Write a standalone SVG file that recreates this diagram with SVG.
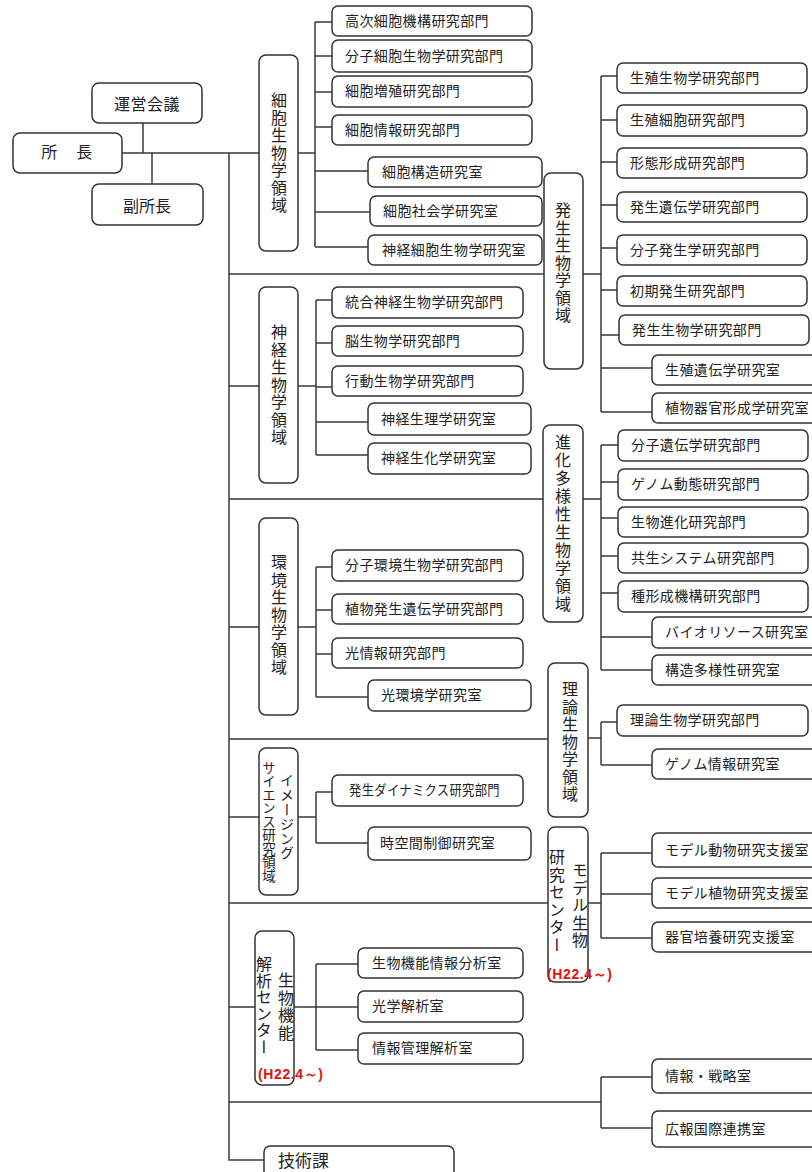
<svg xmlns="http://www.w3.org/2000/svg" width="812" height="1172" viewBox="0 0 812 1172">
  <style>
    .box { fill: #fff; stroke: #333; stroke-width: 1.5; }
    .ln { fill: none; stroke: #3a3a3a; stroke-width: 1.5; }
    text { font-family: "Noto Sans CJK JP", "Noto Sans CJK SC", sans-serif; fill: #222; }
    .t { font-size: 14px; letter-spacing: 0.4px; }
    .c { font-size: 16px; text-anchor: middle; }
    .v { font-size: 16px; writing-mode: vertical-rl; text-orientation: upright; letter-spacing: 1.5px; }
    .vs { font-size: 13.5px; writing-mode: vertical-rl; text-orientation: upright; }
    .red { font-family: "Liberation Sans", sans-serif; font-size: 14px; font-weight: bold; fill: #e01010; }
  </style>

  <rect width="812" height="1172" fill="#fff"/>

  <!-- connectors -->
  <g id="connectors" class="ln">
    <!-- director, council, vice director -->
    <path d="M122,153 H259 M143,123 V153 M152,153 V184"/>
    <!-- main trunk and its branches -->
    <path d="M229,153 V1160 H264"/>
    <path d="M229,274 H544 M229,386 H259 M229,499 H543 M229,627 H259 M229,739 H548 M229,817 H259 M229,903 H548 M229,1007 H255 M229,1102 H601"/>
    <!-- cell biology -->
    <path d="M298,153 H315 M315,22 V247 M315,22 H332 M315,56 H332 M315,92 H332 M315,127 H332 M315,171 H368 M315,212 H370 M315,247 H368"/>
    <!-- developmental biology -->
    <path d="M583,274 H601 M601,76 V412 M601,76 H617 M601,120 H617 M601,162 H617 M601,205 H617 M601,248 H617 M601,290 H617 M601,335 H619 M601,368 H652 M601,412 H652"/>
    <!-- neurobiology -->
    <path d="M298,386 H316 M316,300 V455 M316,300 H332 M316,343 H332 M316,387 H332 M316,422 H368 M316,455 H368"/>
    <!-- evolutionary biology and biodiversity -->
    <path d="M583,499 H601 M601,445 V670 M601,445 H618 M601,482 H618 M601,518 H618 M601,556 H618 M601,593 H618 M601,637 H652 M601,670 H652"/>
    <!-- environmental biology -->
    <path d="M298,627 H316 M316,567 V697 M316,567 H332 M316,610 H332 M316,654 H332 M316,697 H368"/>
    <!-- theoretical biology -->
    <path d="M588,738 H601 M601,722 V765 M601,722 H617 M601,765 H652"/>
    <!-- imaging science -->
    <path d="M298,817 H316 M316,792 V843 M316,792 H332 M316,843 H368"/>
    <!-- model organisms center -->
    <path d="M588,903 H601 M601,853 V938 M601,853 H652 M601,894 H652 M601,938 H652"/>
    <!-- functional biology analysis center -->
    <path d="M294,1007 H316 M316,964 V1050 M316,964 H358 M316,1007 H358 M316,1050 H358"/>
    <!-- strategy / public relations -->
    <path d="M601,1077 V1128 M601,1077 H652 M601,1128 H652"/>
  </g>

  <!-- top management -->
  <g id="council"><rect class="box" x="92" y="83" width="110" height="40" rx="7"/><text class="c" x="147" y="110" style="letter-spacing:0.5px">運営会議</text></g>
  <g id="director"><rect class="box" x="13" y="133" width="109" height="40" rx="7"/><text class="c" x="67.5" y="158" style="letter-spacing:1.5px">所　長</text></g>
  <g id="vice-director"><rect class="box" x="92" y="184" width="111" height="41" rx="7"/><text class="c" x="147" y="212">副所長</text></g>

  <!-- cell biology -->
  <g id="cell-biology"><rect class="box" x="259" y="55" width="39" height="196" rx="7"/><text class="v" x="279" y="92">細胞生物学領域</text></g>
  <g id="cell-1"><rect class="box" x="332" y="6" width="200" height="30" rx="6"/><text class="t" x="345" y="26">高次細胞機構研究部門</text></g>
  <g id="cell-2"><rect class="box" x="332" y="40" width="200" height="32" rx="6"/><text class="t" x="345" y="61">分子細胞生物学研究部門</text></g>
  <g id="cell-3"><rect class="box" x="332" y="76" width="200" height="31" rx="6"/><text class="t" x="345" y="96">細胞増殖研究部門</text></g>
  <g id="cell-4"><rect class="box" x="332" y="115" width="200" height="30" rx="6"/><text class="t" x="345" y="135">細胞情報研究部門</text></g>
  <g id="cell-5"><rect class="box" x="368" y="157" width="174" height="30" rx="6"/><text class="t" x="382" y="177">細胞構造研究室</text></g>
  <g id="cell-6"><rect class="box" x="370" y="196" width="172" height="30" rx="6"/><text class="t" x="383" y="216">細胞社会学研究室</text></g>
  <g id="cell-7"><rect class="box" x="368" y="235" width="174" height="30" rx="6"/><text class="t" x="382" y="255">神経細胞生物学研究室</text></g>

  <!-- neurobiology -->
  <g id="neurobiology"><rect class="box" x="259" y="287" width="39" height="196" rx="7"/><text class="v" x="279" y="324">神経生物学領域</text></g>
  <g id="neuro-1"><rect class="box" x="332" y="287" width="191" height="31" rx="6"/><text class="t" x="345" y="307">統合神経生物学研究部門</text></g>
  <g id="neuro-2"><rect class="box" x="332" y="326" width="191" height="30" rx="6"/><text class="t" x="345" y="346">脳生物学研究部門</text></g>
  <g id="neuro-3"><rect class="box" x="332" y="366" width="191" height="30" rx="6"/><text class="t" x="345" y="386">行動生物学研究部門</text></g>
  <g id="neuro-4"><rect class="box" x="368" y="403" width="163" height="32" rx="6"/><text class="t" x="381" y="424">神経生理学研究室</text></g>
  <g id="neuro-5"><rect class="box" x="368" y="443" width="163" height="31" rx="6"/><text class="t" x="381" y="463">神経生化学研究室</text></g>

  <!-- environmental biology -->
  <g id="environmental-biology"><rect class="box" x="259" y="518" width="39" height="197" rx="7"/><text class="v" x="279" y="554">環境生物学領域</text></g>
  <g id="env-1"><rect class="box" x="332" y="550" width="191" height="31" rx="6"/><text class="t" x="345" y="570">分子環境生物学研究部門</text></g>
  <g id="env-2"><rect class="box" x="332" y="594" width="191" height="30" rx="6"/><text class="t" x="345" y="614">植物発生遺伝学研究部門</text></g>
  <g id="env-3"><rect class="box" x="332" y="638" width="191" height="30" rx="6"/><text class="t" x="345" y="658">光情報研究部門</text></g>
  <g id="env-4"><rect class="box" x="368" y="680" width="163" height="31" rx="6"/><text class="t" x="381" y="700">光環境学研究室</text></g>

  <!-- imaging science -->
  <g id="imaging-science"><rect class="box" x="259" y="748" width="39" height="147" rx="7"/><text class="vs" x="287" y="773" style="font-size:14px;letter-spacing:0.6px">イメージング</text><text class="vs" x="269" y="761">サイエンス研究領域</text></g>
  <g id="img-1"><rect class="box" x="332" y="775" width="191" height="31" rx="6"/><text class="t" x="349" y="795" textLength="151" lengthAdjust="spacingAndGlyphs">発生ダイナミクス研究部門</text></g>
  <g id="img-2"><rect class="box" x="368" y="827" width="163" height="33" rx="6"/><text class="t" x="380" y="848">時空間制御研究室</text></g>

  <!-- functional biology analysis center -->
  <g id="analysis-center"><rect class="box" x="255" y="931" width="39" height="154" rx="7"/><text class="v" x="286" y="972">生物機能</text><text class="v" x="264" y="956" style="letter-spacing:0.5px">解析センター</text><text class="red" x="258" y="1079" textLength="65" lengthAdjust="spacing">(H22.4～)</text></g>
  <g id="ana-1"><rect class="box" x="358" y="948" width="165" height="30" rx="6"/><text class="t" x="372" y="968">生物機能情報分析室</text></g>
  <g id="ana-2"><rect class="box" x="358" y="991" width="165" height="31" rx="6"/><text class="t" x="372" y="1011">光学解析室</text></g>
  <g id="ana-3"><rect class="box" x="358" y="1033" width="165" height="31" rx="6"/><text class="t" x="372" y="1053">情報管理解析室</text></g>

  <!-- technical division -->
  <g id="technical-division"><rect class="box" x="264" y="1146" width="190" height="40" rx="6"/><text x="278" y="1167" style="font-size:17px">技術課</text></g>

  <!-- developmental biology -->
  <g id="developmental-biology"><rect class="box" x="544" y="173" width="39" height="196" rx="7"/><text class="v" x="563" y="202">発生生物学領域</text></g>
  <g id="dev-1"><rect class="box" x="617" y="63" width="190" height="30" rx="6"/><text class="t" x="630" y="83">生殖生物学研究部門</text></g>
  <g id="dev-2"><rect class="box" x="617" y="105" width="190" height="31" rx="6"/><text class="t" x="630" y="125">生殖細胞研究部門</text></g>
  <g id="dev-3"><rect class="box" x="617" y="148" width="190" height="30" rx="6"/><text class="t" x="630" y="168">形態形成研究部門</text></g>
  <g id="dev-4"><rect class="box" x="617" y="192" width="190" height="30" rx="6"/><text class="t" x="630" y="212">発生遺伝学研究部門</text></g>
  <g id="dev-5"><rect class="box" x="617" y="235" width="190" height="30" rx="6"/><text class="t" x="630" y="255">分子発生学研究部門</text></g>
  <g id="dev-6"><rect class="box" x="617" y="276" width="190" height="30" rx="6"/><text class="t" x="630" y="296">初期発生研究部門</text></g>
  <g id="dev-7"><rect class="box" x="619" y="315" width="190" height="30" rx="6"/><text class="t" x="632" y="335">発生生物学研究部門</text></g>
  <g id="dev-8"><rect class="box" x="652" y="355" width="180" height="30" rx="6"/><text class="t" x="665" y="375">生殖遺伝学研究室</text></g>
  <g id="dev-9"><rect class="box" x="652" y="393" width="180" height="30" rx="6"/><text class="t" x="665" y="413">植物器官形成学研究室</text></g>

  <!-- evolutionary biology and biodiversity -->
  <g id="evolution-biodiversity"><rect class="box" x="543" y="425" width="40" height="197" rx="7"/><text class="v" x="563" y="434" style="letter-spacing:2px">進化多様性生物学領域</text></g>
  <g id="evo-1"><rect class="box" x="618" y="430" width="190" height="31" rx="6"/><text class="t" x="631" y="450">分子遺伝学研究部門</text></g>
  <g id="evo-2"><rect class="box" x="618" y="469" width="190" height="31" rx="6"/><text class="t" x="631" y="489">ゲノム動態研究部門</text></g>
  <g id="evo-3"><rect class="box" x="618" y="507" width="190" height="30" rx="6"/><text class="t" x="631" y="527">生物進化研究部門</text></g>
  <g id="evo-4"><rect class="box" x="618" y="543" width="190" height="30" rx="6"/><text class="t" x="631" y="563">共生システム研究部門</text></g>
  <g id="evo-5"><rect class="box" x="618" y="581" width="190" height="31" rx="6"/><text class="t" x="631" y="601">種形成機構研究部門</text></g>
  <g id="evo-6"><rect class="box" x="652" y="617" width="180" height="31" rx="6"/><text class="t" x="665" y="637">バイオリソース研究室</text></g>
  <g id="evo-7"><rect class="box" x="652" y="655" width="180" height="30" rx="6"/><text class="t" x="665" y="675">構造多様性研究室</text></g>

  <!-- theoretical biology -->
  <g id="theoretical-biology"><rect class="box" x="548" y="663" width="40" height="154" rx="7"/><text class="v" x="570" y="681">理論生物学領域</text></g>
  <g id="theo-1"><rect class="box" x="617" y="705" width="191" height="31" rx="6"/><text class="t" x="630" y="725">理論生物学研究部門</text></g>
  <g id="theo-2"><rect class="box" x="652" y="749" width="180" height="30" rx="6"/><text class="t" x="665" y="769">ゲノム情報研究室</text></g>

  <!-- model organisms center -->
  <g id="model-organism-center"><rect class="box" x="548" y="827" width="40" height="155" rx="7"/><text class="v" x="580" y="862">モデル生物</text><text class="v" x="557" y="849">研究センター</text><text class="red" x="547" y="979" textLength="65" lengthAdjust="spacing">(H22.4～)</text></g>
  <g id="model-1"><rect class="box" x="652" y="833" width="180" height="34" rx="6"/><text class="t" x="665" y="855">モデル動物研究支援室</text></g>
  <g id="model-2"><rect class="box" x="652" y="878" width="180" height="30" rx="6"/><text class="t" x="665" y="898">モデル植物研究支援室</text></g>
  <g id="model-3"><rect class="box" x="652" y="922" width="180" height="30" rx="6"/><text class="t" x="665" y="942">器官培養研究支援室</text></g>

  <!-- strategy and public relations offices -->
  <g id="strategy-office"><rect class="box" x="652" y="1059" width="180" height="34" rx="6"/><text class="t" x="665" y="1081">情報・戦略室</text></g>
  <g id="pr-office"><rect class="box" x="652" y="1111" width="180" height="36" rx="6"/><text class="t" x="665" y="1134">広報国際連携室</text></g>
</svg>
